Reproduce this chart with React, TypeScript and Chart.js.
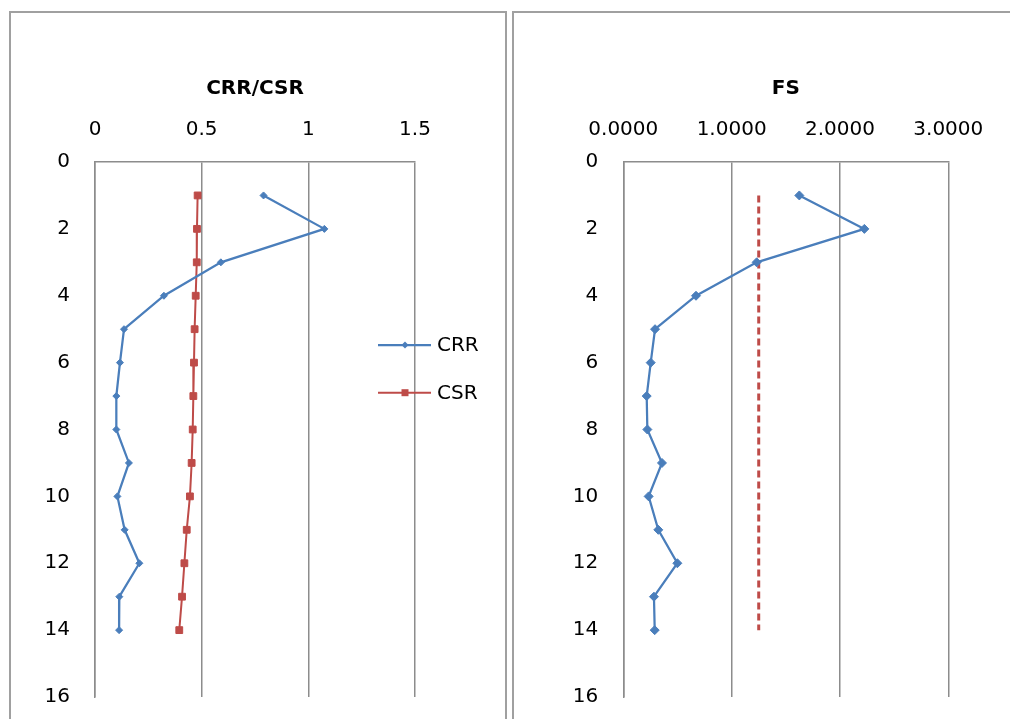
import React, { useEffect, useRef } from 'react';
import { Chart, registerables } from 'chart.js';

Chart.register(...registerables);

// ---- data ----
const depths = [1, 2, 3, 4, 5, 6, 7, 8, 9, 10, 11, 12, 13, 14];
const crrValues = [0.79, 1.075, 0.59, 0.323, 0.136, 0.117, 0.1, 0.1, 0.159, 0.105, 0.139, 0.208, 0.114, 0.113];
const csrValues = [0.481, 0.478, 0.477, 0.472, 0.467, 0.464, 0.461, 0.458, 0.453, 0.445, 0.43, 0.419, 0.408, 0.395];
const fsValues = [1.625, 2.225, 1.231, 0.671, 0.293, 0.253, 0.216, 0.222, 0.357, 0.234, 0.323, 0.499, 0.283, 0.29];
const fsLimitDepths = [1, 14];
const fsLimitValues = [1.25, 1.25];

const leftTitle = 'CRR/CSR';
const rightTitle = 'FS';
const leftXTicks = [0, 0.5, 1, 1.5];
const rightXTicks = [0, 1, 2, 3];
const depthTicks = [0, 2, 4, 6, 8, 10, 12, 14, 16];
const seriesNames = ['CRR', 'CSR', 'FS', 'FS limit'];

const BLUE = '#4A7EBB';
const RED = '#BE4B48';
const GRID = '#8c8c8c';
const FONT = "'DejaVu Sans', sans-serif";

const pts = (xs: number[], ys: number[]) => xs.map((x, i) => ({ x, y: ys[i] }));

const sideLegend = {
  id: 'sideLegend',
  afterDraw(chart: any, _args: any, opts: any) {
    if (!opts || !opts.display) return;
    const ctx = chart.ctx;
    ctx.save();
    chart.data.datasets.forEach((ds: any, i: number) => {
      const y = opts.y + i * opts.spacing;
      ctx.strokeStyle = ds.borderColor;
      ctx.lineWidth = ds.borderWidth;
      ctx.beginPath();
      ctx.moveTo(opts.x, y);
      ctx.lineTo(opts.x + opts.lineLength, y);
      ctx.stroke();
      ctx.fillStyle = ds.pointBackgroundColor || ds.borderColor;
      const cx = opts.x + opts.markerOffset;
      ctx.beginPath();
      if (ds.pointStyle === 'rect') {
        const s = opts.squareHalf;
        ctx.rect(cx - s, y - s, 2 * s, 2 * s);
      } else {
        const r = opts.diamondRadius;
        ctx.moveTo(cx - r, y);
        ctx.lineTo(cx, y - r);
        ctx.lineTo(cx + r, y);
        ctx.lineTo(cx, y + r);
        ctx.closePath();
      }
      ctx.fill();
      ctx.fillStyle = '#000';
      ctx.font = `20px ${FONT}`;
      ctx.textAlign = 'left';
      ctx.textBaseline = 'middle';
      ctx.fillText(ds.label, opts.x + opts.lineLength + 6, y + 1);
    });
    ctx.restore();
  },
};

function makeConfig(
  datasets: any[],
  title: string,
  xTicks: number[],
  fmt: (v: number) => string,
  yAxisWidth: number,
  padRight: number,
  legend: any
) {
  return {
    type: 'scatter' as const,
    data: { datasets },
    plugins: [sideLegend],
    options: {
      responsive: false,
      animation: false as const,
      devicePixelRatio: 1,
      events: [],
      layout: { padding: { left: 0, top: 0, right: padRight, bottom: 22 } },
      plugins: {
        legend: { display: false },
        tooltip: { enabled: false },
        title: { display: false },
        sideLegend: legend,
      },
      scales: {
        x: {
          type: 'linear' as const,
          position: 'top' as const,
          min: xTicks[0],
          max: xTicks[xTicks.length - 1],
          afterBuildTicks: (s: any) => {
            s.ticks = xTicks.map((v) => ({ value: v }));
          },
          afterFit: (s: any) => {
            s.height = 150;
            s.paddingLeft = 0;
            s.paddingRight = 0;
          },
          ticks: {
            color: '#000',
            font: { family: FONT, size: 20 },
            padding: 20,
            maxRotation: 0,
            callback: (v: any) => fmt(Number(v)),
          },
          grid: { display: true, color: GRID, lineWidth: 1.5, drawTicks: false },
          border: { display: true, color: GRID, width: 1.5 },
          title: {
            display: true,
            text: title,
            color: '#000',
            font: { family: FONT, size: 20, weight: 'bold' as const },
            padding: { top: 65, bottom: 0 },
          },
        },
        y: {
          type: 'linear' as const,
          position: 'left' as const,
          reverse: true,
          min: depthTicks[0],
          max: depthTicks[depthTicks.length - 1],
          afterBuildTicks: (s: any) => {
            s.ticks = depthTicks.map((v) => ({ value: v }));
          },
          afterFit: (s: any) => {
            s.width = yAxisWidth;
            s.paddingTop = 0;
            s.paddingBottom = 0;
          },
          ticks: {
            color: '#000',
            font: { family: FONT, size: 20 },
            padding: 25,
            callback: (v: any) => String(v),
          },
          grid: { display: false, drawTicks: false },
          border: { display: true, color: GRID, width: 1.5 },
        },
      },
    },
  };
}

export default function App() {
  const leftRef = useRef<HTMLCanvasElement>(null);
  const rightRef = useRef<HTMLCanvasElement>(null);

  useEffect(() => {
    const leftData = [
      {
        label: seriesNames[0],
        data: pts(crrValues, depths),
        showLine: true,
        borderColor: BLUE,
        backgroundColor: BLUE,
        pointBackgroundColor: BLUE,
        pointBorderColor: BLUE,
        borderWidth: 2.25,
        pointStyle: 'rectRot',
        pointRadius: 3.5,
        pointBorderWidth: 1,
      },
      {
        label: seriesNames[1],
        data: pts(csrValues, depths),
        showLine: true,
        borderColor: RED,
        backgroundColor: RED,
        pointBackgroundColor: RED,
        pointBorderColor: RED,
        borderWidth: 2,
        pointStyle: 'rect',
        pointRadius: 4.8,
        pointBorderWidth: 1,
      },
    ];
    const rightData = [
      {
        label: seriesNames[2],
        data: pts(fsValues, depths),
        showLine: true,
        borderColor: BLUE,
        backgroundColor: BLUE,
        pointBackgroundColor: BLUE,
        pointBorderColor: BLUE,
        borderWidth: 2.25,
        pointStyle: 'rectRot',
        pointRadius: 4.5,
        pointBorderWidth: 1,
      },
      {
        label: seriesNames[3],
        data: pts(fsLimitValues, fsLimitDepths),
        showLine: true,
        borderColor: RED,
        backgroundColor: RED,
        borderWidth: 3,
        borderDash: [7, 4],
        pointRadius: 0,
      },
    ];
    const c1 = new Chart(
      leftRef.current as HTMLCanvasElement,
      makeConfig(leftData, leftTitle, leftXTicks, (v) => String(v), 85, 91, {
        display: true,
        x: 368,
        y: 333,
        spacing: 47.7,
        lineLength: 53,
        markerOffset: 27,
        squareHalf: 3.5,
        diamondRadius: 3.5,
      }) as any
    );
    const c2 = new Chart(
      rightRef.current as HTMLCanvasElement,
      makeConfig(rightData, rightTitle, rightXTicks, (v) => v.toFixed(4), 109.3, 61.7, { display: false }) as any
    );
    return () => {
      c1.destroy();
      c2.destroy();
    };
  }, []);

  return (
    <div
      style={{
        position: 'fixed',
        left: 0,
        top: 0,
        width: 1010,
        height: 719,
        overflow: 'hidden',
        background: '#fff',
      }}
    >
      <div
        style={{
          position: 'absolute',
          left: 9,
          top: 11,
          width: 498,
          height: 760,
          border: '2px solid #a0a0a0',
          boxSizing: 'border-box',
        }}
      />
      <div
        style={{
          position: 'absolute',
          left: 512,
          top: 11,
          width: 530,
          height: 760,
          border: '2px solid #a0a0a0',
          boxSizing: 'border-box',
        }}
      />
      <canvas
        ref={leftRef}
        width={496}
        height={707}
        style={{ position: 'absolute', left: 10, top: 12, width: 496, height: 707 }}
      />
      <canvas
        ref={rightRef}
        width={496}
        height={707}
        style={{ position: 'absolute', left: 514, top: 12, width: 496, height: 707 }}
      />
    </div>
  );
}
